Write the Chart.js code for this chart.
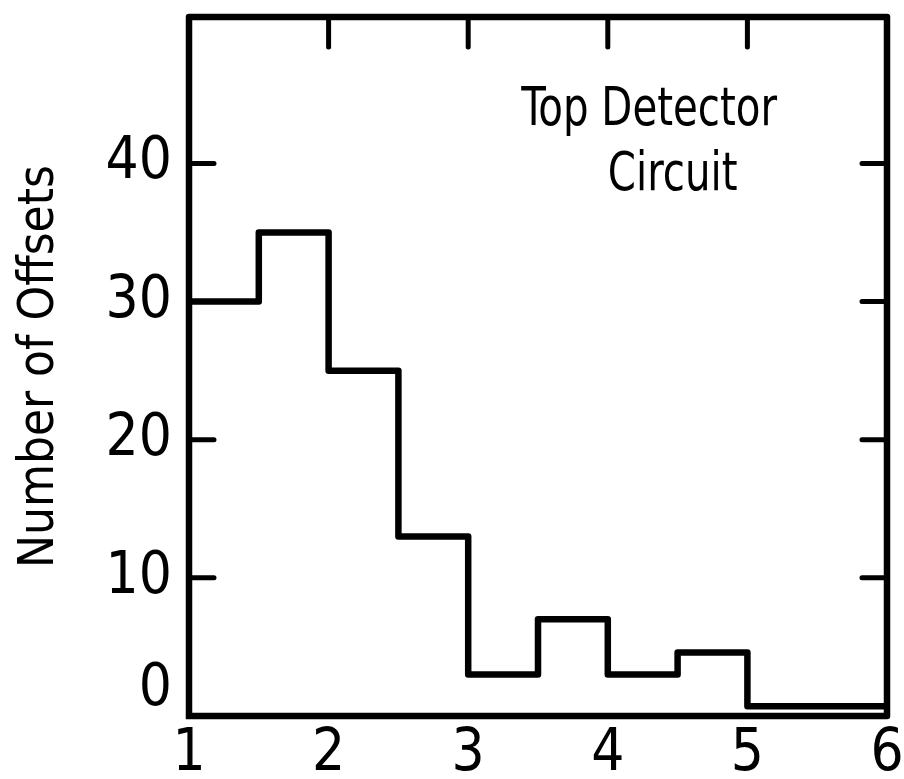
<!DOCTYPE html>
<html>
<head>
<meta charset="utf-8">
<script src="https://cdn.jsdelivr.net/npm/chart.js@4.4.0/dist/chart.umd.min.js"></script>
<style>
  html, body { margin: 0; padding: 0; background: #fff; }
  #wrap { width: 904px; height: 779px; }
</style>
</head>
<body>
<div id="wrap"><canvas id="hist"></canvas></div>
<script>
// histogram bins (edges) and counts
const binEdges = [1, 1.5, 2, 2.5, 3, 3.5, 4, 4.5, 5, 5.5, 6];
const counts = [30, 35, 25, 13, 3, 7, 3, 4.6, 0.7, 0.7];
const xTicks = [1, 2, 3, 4, 5, 6];
const yTicks = [0, 10, 20, 30, 40];
const yTitle = "Number of Offsets";
const noteLines = ["Top Detector", "Circuit"];

const FONT = '"DejaVu Sans Condensed", "Liberation Sans", sans-serif';

// one point per bin edge, the last edge repeats the last count so the step closes at 6
const points = binEdges.map((x, i) => ({ x, y: counts[Math.min(i, counts.length - 1)] }));

const framePlugin = {
  id: "frame",
  afterDraw(chart) {
    const { ctx, chartArea: a, scales: { x, y } } = chart;
    ctx.save();
    ctx.strokeStyle = "#000";
    ctx.lineWidth = 6.5;
    ctx.lineJoin = "round";
    ctx.lineCap = "square";
    ctx.beginPath();
    ctx.moveTo(a.left, a.bottom);
    ctx.lineTo(a.left, a.top);
    ctx.lineTo(a.right, a.top);
    ctx.lineTo(a.right, a.bottom);
    ctx.lineTo(a.left, a.bottom);
    ctx.stroke();

    // inward tick marks
    ctx.lineWidth = 5;
    ctx.lineCap = "round";
    yTicks.filter((v) => v > 0).forEach((v) => {
      const py = y.getPixelForValue(v);
      ctx.beginPath();
      ctx.moveTo(a.left, py); ctx.lineTo(a.left + 25, py);
      ctx.moveTo(a.right, py); ctx.lineTo(a.right - 25, py);
      ctx.stroke();
    });
    xTicks.filter((v) => v > 1 && v < 6).forEach((v) => {
      const px = x.getPixelForValue(v);
      ctx.beginPath();
      ctx.moveTo(px, a.top); ctx.lineTo(px, a.top + 30);
      ctx.stroke();
    });

    // label inside the plot, squeezed a bit to look like the narrow lettering
    ctx.fillStyle = "#000";
    ctx.font = "54px " + FONT;
    ctx.textBaseline = "alphabetic";
    ctx.textAlign = "left";
    const squeeze = 0.83;
    [[3.38, 42.8], [4.0, 38.1]].forEach(([vx, vy], i) => {
      ctx.save();
      ctx.translate(x.getPixelForValue(vx), y.getPixelForValue(vy));
      ctx.scale(squeeze, 1);
      ctx.fillText(noteLines[i], 0, 0);
      ctx.restore();
    });
    ctx.restore();
  }
};

new Chart(document.getElementById("hist"), {
  type: "line",
  data: {
    datasets: [{
      data: points,
      stepped: "before",
      borderColor: "#000",
      borderWidth: 6.5,
      borderJoinStyle: "round",
      pointRadius: 0,
      fill: false
    }]
  },
  options: {
    responsive: true,
    maintainAspectRatio: false,
    animation: false,
    layout: { padding: { top: 17, right: 17, left: 0, bottom: 0 } },
    plugins: { legend: { display: false }, tooltip: { enabled: false } },
    scales: {
      x: {
        type: "linear",
        min: 1,
        max: 6,
        afterBuildTicks: (s) => { s.ticks = xTicks.map((v) => ({ value: v })); },
        afterFit: (s) => { s.height = 63; s.paddingLeft = 0; s.paddingRight = 0; },
        grid: { display: false },
        border: { display: false },
        ticks: {
          color: "#000",
          padding: -4,
          maxRotation: 0,
          font: { family: FONT, size: 58 }
        }
      },
      y: {
        type: "linear",
        min: 0,
        max: 50.6,
        afterBuildTicks: (s) => { s.ticks = yTicks.map((v) => ({ value: v })); },
        afterFit: (s) => { s.width = 189; s.paddingTop = 0; s.paddingBottom = 0; },
        grid: { display: false },
        border: { display: false },
        ticks: {
          color: "#000",
          padding: 9,
          // the zero sits a little above the axis in the original
          callback: (v) => (v === 0 ? ["0", ""] : String(v)),
          font: { family: FONT, size: 58, lineHeight: 0.9 }
        },
        title: {
          display: true,
          text: yTitle,
          color: "#000",
          padding: { top: 11, bottom: 0 },
          font: { family: FONT, size: 49 }
        }
      }
    }
  },
  plugins: [framePlugin]
});
</script>
</body>
</html>
